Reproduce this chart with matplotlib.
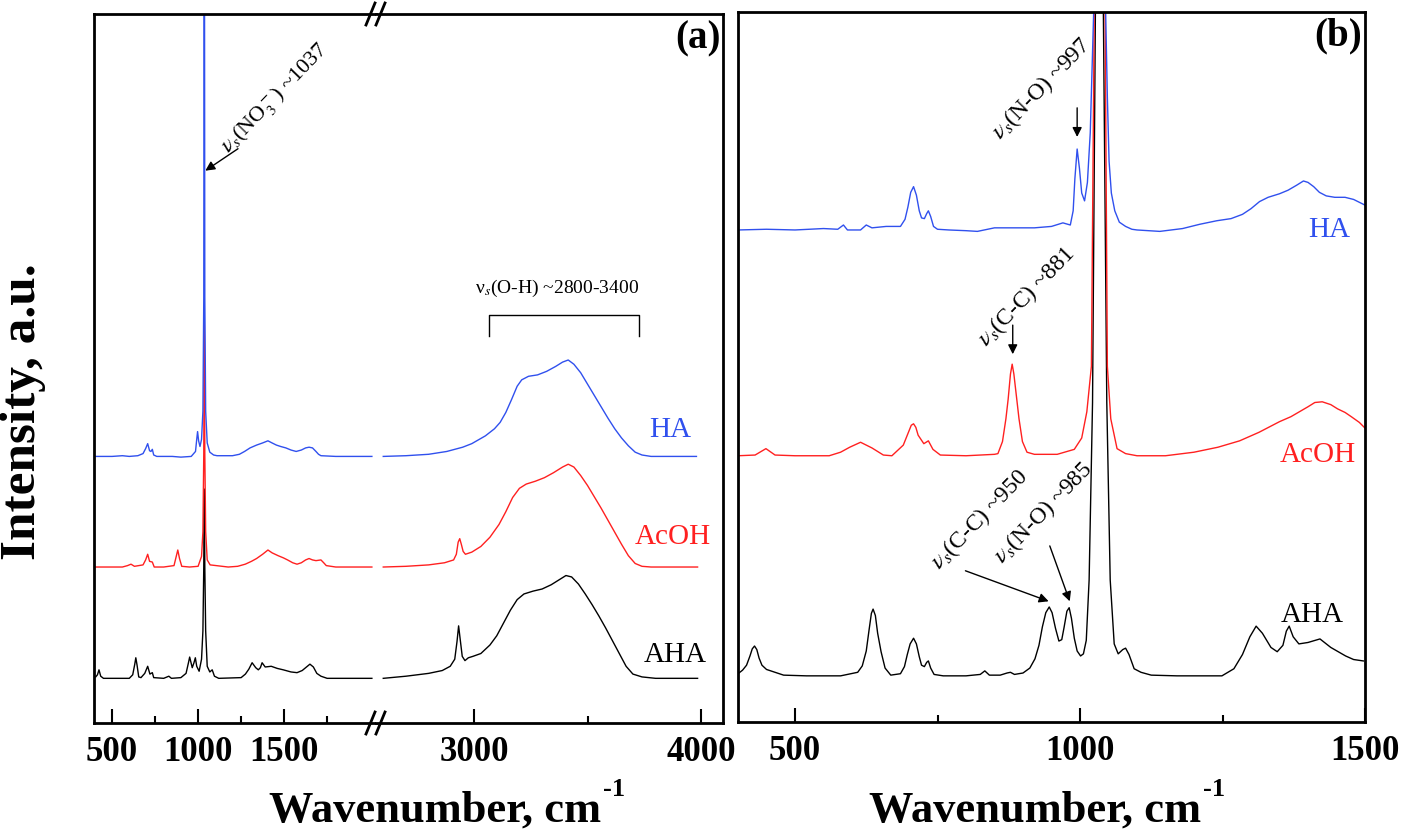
import matplotlib
matplotlib.use('Agg')
import matplotlib.pyplot as plt
from matplotlib.lines import Line2D

plt.rcParams['font.family'] = ['Liberation Serif', 'DejaVu Serif']
plt.rcParams['mathtext.fontset'] = 'stix'

BLUE = '#3050EE'
RED = '#FF2020'
BLACK = '#000000'

# ---------------- Panel (a): low-wavenumber segment ----------------
ha_a_lo_wn = [405, 500, 560, 600, 650, 680, 695, 707, 718, 726, 734, 742, 760, 850, 900, 960,
              985, 992, 997, 1003, 1011, 1020, 1028, 1033, 1036, 1039, 1044, 1053, 1068, 1090,
              1110, 1200, 1240, 1270, 1302, 1340, 1375, 1406, 1430, 1455, 1480, 1510, 1540,
              1570, 1600, 1625, 1645, 1665, 1685, 1700, 1714, 1800, 2010]
ha_a_lo = [37.6, 37.6, 37.7, 37.6, 37.7, 38.0, 38.7, 39.4, 38.4, 38.3, 38.6, 37.8, 37.6, 37.6,
           37.5, 37.6, 38.3, 40.0, 41.1, 39.8, 39.0, 40.0, 44.0, 60.0, 140.0, 60.0, 44.0, 39.5,
           38.2, 37.8, 37.7, 37.7, 37.9, 38.3, 38.8, 39.2, 39.5, 39.8, 39.5, 39.2, 39.0, 38.8,
           38.5, 38.3, 38.5, 38.8, 38.9, 38.8, 38.3, 37.9, 37.7, 37.6, 37.6]

acoh_a_lo_wn = [405, 560, 590, 610, 630, 680, 695, 707, 718, 734, 745, 800, 860, 872, 882, 892,
                905, 950, 1000, 1020, 1028, 1033, 1036, 1039, 1044, 1053, 1070, 1175, 1230,
                1274, 1310, 1340, 1375, 1406, 1430, 1465, 1495, 1520, 1550, 1575, 1600, 1625,
                1645, 1665, 1685, 1714, 1730, 1745, 1800, 2010]
acoh_a_lo = [22.0, 22.0, 22.2, 22.4, 22.1, 22.3, 23.0, 23.8, 22.8, 22.7, 22.0, 22.0, 22.2, 23.4,
             24.4, 23.2, 22.1, 22.0, 22.1, 23.5, 27.0, 38.0, 57.0, 38.0, 27.0, 23.0, 22.3, 22.0,
             22.1, 22.4, 22.8, 23.2, 23.8, 24.4, 24.0, 23.6, 23.3, 23.0, 22.6, 22.4, 22.6, 23.0,
             23.2, 23.0, 22.9, 23.0, 22.6, 22.2, 22.0, 22.0]

aha_a_lo_wn = [405, 415, 424, 434, 450, 600, 620, 632, 638, 645, 655, 668, 690, 707, 720, 734,
               742, 800, 830, 845, 900, 930, 944, 951, 958, 966, 976, 984, 992, 1006, 1020, 1028,
               1033, 1036, 1039, 1044, 1053, 1068, 1082, 1095, 1120, 1250, 1275, 1295, 1314,
               1335, 1350, 1362, 1372, 1390, 1425, 1460, 1495, 1540, 1575, 1605, 1630, 1650,
               1670, 1690, 1714, 1750, 2010]
aha_a_lo = [6.5, 6.8, 7.5, 6.6, 6.3, 6.3, 6.8, 8.3, 9.2, 8.2, 6.5, 6.4, 7.0, 8.0, 6.9, 7.1, 6.4,
            6.3, 6.6, 6.3, 6.4, 7.0, 8.5, 9.3, 8.6, 7.8, 8.5, 9.2, 8.0, 7.3, 9.0, 13.0, 22.0,
            33.0, 22.0, 13.0, 8.0, 7.2, 7.5, 6.6, 6.3, 6.4, 6.9, 7.6, 8.5, 7.8, 7.5, 7.8, 8.5,
            7.9, 8.0, 7.7, 7.5, 7.2, 7.1, 7.4, 7.9, 8.3, 7.9, 7.0, 6.6, 6.3, 6.3]

# ---------------- Panel (a): high-wavenumber segment ----------------
ha_a_hi_wn = [2600, 2700, 2800, 2880, 2950, 2990, 3050, 3090, 3115, 3140, 3165, 3190, 3210,
              3240, 3280, 3320, 3360, 3390, 3415, 3440, 3470, 3500, 3530, 3560, 3590, 3620,
              3650, 3680, 3710, 3740, 3780, 3850, 3980]
ha_a_hi = [37.6, 37.7, 37.9, 38.3, 38.9, 39.4, 40.5, 41.5, 42.4, 43.8, 45.6, 47.5, 48.4, 48.9,
           49.1, 49.6, 50.3, 50.9, 51.2, 50.6, 49.4, 47.8, 46.2, 44.6, 43.0, 41.5, 40.2, 39.1,
           38.2, 37.8, 37.6, 37.6, 37.6]

acoh_a_hi_wn = [2600, 2700, 2800, 2870, 2910, 2922, 2930, 2937, 2944, 2952, 2962, 2990, 3030,
                3070, 3110, 3140, 3170, 3200, 3230, 3270, 3310, 3350, 3390, 3415, 3440, 3470,
                3500, 3530, 3560, 3590, 3620, 3650, 3680, 3710, 3740, 3780, 3985]
acoh_a_hi = [22.0, 22.1, 22.3, 22.6, 23.0, 23.8, 25.5, 26.0, 25.2, 24.2, 23.8, 24.1, 24.9,
             26.2, 28.0, 29.8, 31.8, 33.1, 33.7, 34.1, 34.6, 35.3, 36.1, 36.5, 36.1, 34.9,
             33.5, 31.9, 30.3, 28.6, 26.9, 25.2, 23.6, 22.5, 22.1, 22.0, 22.0]

aha_a_hi_wn = [2600, 2700, 2800, 2860, 2895, 2915, 2925, 2932, 2939, 2948, 2960, 2975, 2995,
               3030, 3070, 3100, 3130, 3160, 3190, 3220, 3260, 3300, 3340, 3380, 3405, 3430,
               3460, 3490, 3520, 3550, 3580, 3610, 3640, 3670, 3700, 3740, 3800, 3985]
aha_a_hi = [6.3, 6.6, 7.0, 7.4, 8.0, 9.0, 11.5, 13.7, 11.8, 9.4, 8.8, 9.2, 9.4, 9.8, 11.0,
            12.3, 14.1, 15.9, 17.4, 18.2, 18.6, 18.9, 19.5, 20.3, 20.8, 20.6, 19.6, 18.2, 16.7,
            15.1, 13.4, 11.6, 9.8, 8.0, 6.9, 6.5, 6.3, 6.3]

# ---------------- Panel (b) ----------------
ha_b_wn = [400, 450, 500, 550, 575, 585, 592, 615, 625, 635, 660, 685, 693, 698, 703, 708, 713,
           718, 722, 727, 731, 734, 738, 743, 750, 770, 800, 820, 850, 880, 920, 950, 970, 983,
           988, 991, 995, 999, 1003, 1008, 1013, 1018, 1024, 1029, 1034, 1039, 1045, 1048,
           1051, 1055, 1061, 1069, 1080, 1091, 1100, 1140, 1180, 1210, 1240, 1265, 1285, 1300,
           1315, 1330, 1350, 1365, 1380, 1392, 1400, 1410, 1420, 1432, 1447, 1465, 1480, 1490,
           1500]
ha_b = [69.3, 69.4, 69.3, 69.5, 69.4, 70.0, 69.3, 69.3, 70.0, 69.6, 69.8, 69.8, 70.8, 72.5,
        74.6, 75.4, 74.2, 72.0, 71.0, 70.9, 71.6, 72.0, 71.2, 69.8, 69.4, 69.3, 69.2, 69.1,
        69.6, 69.6, 69.6, 69.8, 70.3, 70.0, 72.0, 76.5, 80.7, 78.0, 74.5, 73.4, 76.0, 83.0,
        100.0, 150.0, 250.0, 150.0, 100.0, 88.0, 79.0, 74.5, 72.0, 70.4, 69.8, 69.4, 69.3,
        69.1, 69.5, 70.1, 70.6, 70.9, 71.5, 72.3, 73.3, 73.9, 74.4, 74.9, 75.6, 76.2, 76.0,
        75.4, 74.6, 74.1, 73.9, 73.9, 73.6, 73.2, 72.8]

acoh_b_wn = [400, 430, 449, 465, 500, 560, 580, 596, 615, 635, 655, 670, 690, 700, 704, 708, 712,
             716, 726, 734, 742, 755, 800, 850, 856, 864, 870, 874, 878, 881, 884, 889, 893, 899,
             907, 920, 960, 990, 1003, 1012, 1020, 1025, 1030, 1034, 1039, 1044, 1048, 1054,
             1065, 1080, 1100, 1150, 1200, 1242, 1280, 1314, 1350, 1370, 1385, 1400, 1412,
             1425, 1440, 1452, 1465, 1476, 1490, 1500]
acoh_b = [37.5, 37.6, 38.5, 37.6, 37.5, 37.5, 38.0, 38.7, 39.4, 38.6, 37.6, 37.5, 39.0, 41.0,
          41.8, 42.0, 41.5, 40.4, 39.2, 39.6, 38.4, 37.6, 37.5, 37.7, 37.8, 39.5, 42.7, 45.5,
          49.0, 50.4, 49.0, 45.5, 42.7, 39.5, 38.0, 37.7, 37.7, 38.4, 40.0, 43.7, 50.1, 100.0,
          160.0, 250.0, 160.0, 100.0, 50.1, 42.7, 38.5, 37.8, 37.5, 37.5, 38.0, 38.7, 39.6,
          40.8, 42.3, 43.0, 43.7, 44.4, 45.0, 45.1, 44.7, 44.1, 43.6, 43.0, 42.2, 41.4]

aha_b_wn = [400, 408, 415, 421, 425, 429, 433, 437, 442, 450, 465, 480, 520, 580, 610, 618, 625,
            630, 634, 637, 641, 645, 651, 658, 668, 685, 692, 697, 702, 708, 713, 718, 722, 727,
            731, 734, 738, 744, 760, 800, 825, 833, 841, 860, 872, 878, 885, 900, 912, 921, 928,
            934, 940, 946, 951, 957, 963, 968, 972, 977, 981, 985, 990, 995, 1001, 1006, 1011,
            1016, 1022, 1027, 1034, 1041, 1047, 1053, 1060, 1067, 1075, 1080, 1086, 1095, 1107,
            1125, 1170, 1249, 1270, 1285, 1298, 1309, 1320, 1335, 1346, 1356, 1362, 1367, 1374,
            1384, 1400, 1421, 1440, 1466, 1480, 1497]
aha_b = [6.8, 7.3, 8.0, 9.3, 10.3, 10.7, 10.2, 9.0, 8.0, 7.4, 7.0, 6.6, 6.5, 6.5, 7.0, 7.9, 10.0,
         13.0, 15.3, 15.9, 15.0, 12.5, 9.9, 7.6, 6.6, 6.8, 7.8, 9.5, 11.0, 11.8, 11.0, 9.2, 8.0,
         7.8, 8.4, 8.6, 7.6, 6.7, 6.5, 6.5, 6.7, 7.2, 6.6, 6.6, 6.9, 7.0, 6.7, 6.9, 7.6, 8.9,
         10.8, 13.4, 15.4, 16.2, 15.4, 13.2, 11.4, 11.6, 13.3, 15.6, 16.1, 14.6, 11.8, 10.0,
         9.3, 9.6, 11.5, 20.0, 45.0, 100.0, 250.0, 100.0, 45.0, 20.0, 11.0, 9.6, 10.2, 10.4,
         9.5, 7.5, 7.0, 6.6, 6.5, 6.5, 7.5, 9.5, 12.0, 13.5, 12.5, 10.5, 9.9, 10.8, 12.8, 13.5,
         12.0, 11.0, 11.2, 11.7, 10.5, 9.3, 8.8, 8.6]

series_names = ['HA', 'AcOH', 'AHA']
xticks_a_lo = [500, 1000, 1500]
xticks_a_lo_minor = [750, 1250, 1750]
xticks_a_hi = [3000, 4000]
xticks_a_hi_minor = [3500]
xticks_b = [500, 1000, 1500]
xticks_b_minor = [750, 1250]

# ---------------- figure ----------------
W, H = 1401, 837
fig = plt.figure(figsize=(W / 100, H / 100), dpi=100)


def rect(x0, y0, x1, y1):
    return [x0 / W, 1 - y1 / H, (x1 - x0) / W, (y1 - y0) / H]


ax1 = fig.add_axes(rect(94, 15, 376, 724))
ax2 = fig.add_axes(rect(376, 15, 723, 724))
ax3 = fig.add_axes(rect(738, 13, 1365, 723))

LW = 1.0
ax1.plot(aha_a_lo_wn, aha_a_lo, color=BLACK, lw=LW)
ax1.plot(acoh_a_lo_wn, acoh_a_lo, color=RED, lw=LW)
ax1.plot(ha_a_lo_wn, ha_a_lo, color=BLUE, lw=LW)
ax2.plot(aha_a_hi_wn, aha_a_hi, color=BLACK, lw=LW)
ax2.plot(acoh_a_hi_wn, acoh_a_hi, color=RED, lw=LW)
ax2.plot(ha_a_hi_wn, ha_a_hi, color=BLUE, lw=LW)
ax3.plot(aha_b_wn, aha_b, color=BLACK, lw=LW)
ax3.plot(acoh_b_wn, acoh_b, color=RED, lw=LW)
ax3.plot(ha_b_wn, ha_b, color=BLUE, lw=LW)

ax1.set_xlim(395, 2034)
ax2.set_xlim(2568, 4097)
ax3.set_xlim(400, 1500)
for ax in (ax1, ax2, ax3):
    ax.set_ylim(0, 100)
    ax.set_yticks([])
    for s in ax.spines.values():
        s.set_linewidth(2.0)
    ax.tick_params(axis='x', which='major', direction='in', length=10, width=1.5,
                   labelsize=25, pad=9)
    ax.tick_params(axis='x', which='minor', direction='in', length=5, width=1.5)
ax1.spines['right'].set_visible(False)
ax2.spines['left'].set_visible(False)

ax1.set_xticks(xticks_a_lo)
ax1.set_xticks(xticks_a_lo_minor, minor=True)
ax2.set_xticks(xticks_a_hi)
ax2.set_xticks(xticks_a_hi_minor, minor=True)
ax3.set_xticks(xticks_b)
ax3.set_xticks(xticks_b_minor, minor=True)
for ax in (ax1, ax2, ax3):
    for lbl in ax.get_xticklabels():
        lbl.set_fontweight('bold')

# series labels
colors = [BLUE, RED, BLACK]
pos_a = [(3863, 41.5), (3877, 26.4), (3885, 9.7)]
pos_b = [(1438, 69.4), (1417, 37.7), (1407, 15.2)]
for name, c, pa, pb in zip(series_names, colors, pos_a, pos_b):
    ax2.text(pa[0], pa[1], name, color=c, fontsize=21, ha='center', va='center')
    ax3.text(pb[0], pb[1], name, color=c, fontsize=21, ha='center', va='center')

# annotations panel (a)
arrow = dict(arrowstyle='-|>', color='k', lw=1.0, mutation_scale=14, shrinkA=0, shrinkB=0)
ROT = 46
ax1.annotate('', xy=(1042, 77.9), xytext=(1232, 81.0), arrowprops=arrow)
ax1.text(1447, 88.3, r'$\nu_s$(NO$_3^-$) ~1037', rotation=ROT, rotation_mode='anchor',
         ha='center', va='center', fontsize=16)
ax2.plot([3066, 3066, 3727, 3727], [54.6, 57.5, 57.5, 54.6], color='k', lw=1.0)
ax2.text(3366, 61.5, 'ν$_s$(O-H) ~2800-3400', ha='center', va='center', fontsize=14)

# annotations panel (b)
ax3.annotate('', xy=(995, 82.4), xytext=(995, 86.5), arrowprops=arrow)
ax3.annotate('', xy=(882, 51.8), xytext=(882, 55.9), arrowprops=arrow)
ax3.annotate('', xy=(945, 17.0), xytext=(799, 21.3), arrowprops=arrow)
ax3.annotate('', xy=(982, 17.0), xytext=(947, 24.8), arrowprops=arrow)
ax3.text(933, 89.4, r'$\nu_s$(N-O) ~997', rotation=ROT, rotation_mode='anchor',
         ha='center', va='center', fontsize=17)
ax3.text(905, 60.0, r'$\nu_s$(C-C) ~881', rotation=ROT, rotation_mode='anchor',
         ha='center', va='center', fontsize=17)
ax3.text(823, 28.6, r'$\nu_s$(C-C) ~950', rotation=ROT, rotation_mode='anchor',
         ha='center', va='center', fontsize=17)
ax3.text(935, 29.6, r'$\nu_s$(N-O) ~985', rotation=ROT, rotation_mode='anchor',
         ha='center', va='center', fontsize=17)

# panel labels
fig.text(698 / W, 1 - 39 / H, '(a)', fontsize=28, fontweight='bold', ha='center', va='center')
fig.text(1338 / W, 1 - 36 / H, '(b)', fontsize=28, fontweight='bold', ha='center', va='center')

# axis labels with superscript
renderer = fig.canvas.get_renderer()


def xlabel(cx, base_y):
    t = fig.text(0, 1 - base_y / H, 'Wavenumber, cm', fontsize=32, fontweight='bold',
                 ha='left', va='baseline')
    s = fig.text(0, 1 - (base_y - 26) / H, '-1', fontsize=19, fontweight='bold',
                 ha='left', va='baseline')
    w1 = t.get_window_extent(renderer).width
    w2 = s.get_window_extent(renderer).width
    x0 = cx - (w1 + w2 + 2) / 2
    t.set_x(x0 / W)
    s.set_x((x0 + w1 + 2) / W)


xlabel(447, 822)
xlabel(1047, 822)
fig.text(23 / W, 1 - 412 / H, 'Intensity, a.u.', fontsize=37, fontweight='bold',
         rotation=90, ha='center', va='center')

# axis break marks
for yc in (15, 724):
    for dx in (0, 10):
        fig.add_artist(Line2D([(366 + dx) / W, (375 + dx) / W],
                              [1 - (yc + 11) / H, 1 - (yc - 11) / H],
                              transform=fig.transFigure, color='k', lw=2.0))

fig.savefig('out.png', dpi=100)
